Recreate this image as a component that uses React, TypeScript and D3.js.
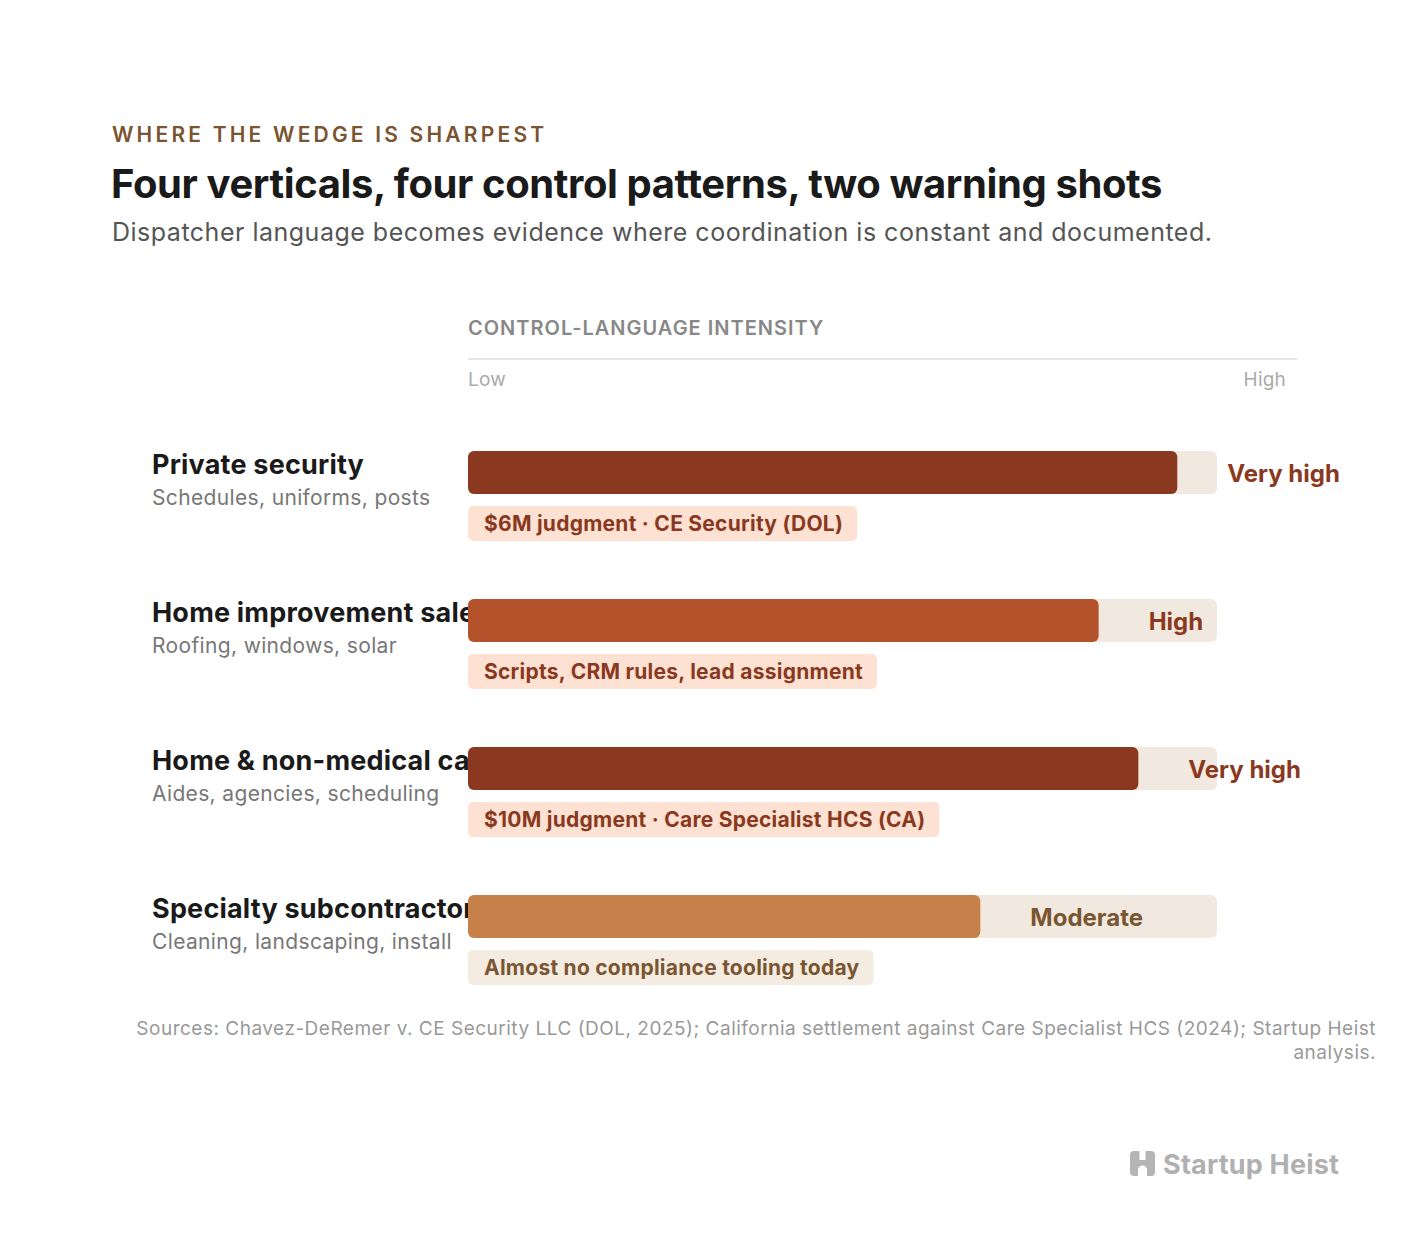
import { useEffect, useRef } from 'react';
import * as d3 from 'd3';

const verticals = [
  'Private security',
  'Home improvement sales',
  'Home & non-medical care',
  'Specialty subcontractors',
];
const examples = [
  'Schedules, uniforms, posts',
  'Roofing, windows, solar',
  'Aides, agencies, scheduling',
  'Cleaning, landscaping, install',
];
const intensity = [94.7, 84.2, 89.5, 68.4];
const levels = ['Very high', 'High', 'Very high', 'Moderate'];
const notes = [
  '$6M judgment · CE Security (DOL)',
  'Scripts, CRM rules, lead assignment',
  '$10M judgment · Care Specialist HCS (CA)',
  'Almost no compliance tooling today',
];
const sourceLines = [
  'Sources: Chavez-DeRemer v. CE Security LLC (DOL, 2025); California settlement against Care Specialist HCS (2024); Startup Heist',
  'analysis.',
];

const FONT = 'Inter, "Noto Sans", sans-serif';

const barColor: Record<string, string> = {
  'Very high': '#8a3920',
  High: '#b4532b',
  Moderate: '#c8804a',
};
const labelColor: Record<string, string> = {
  'Very high': '#8a3920',
  High: '#8a3920',
  Moderate: '#7a5532',
};
const pillColor: Record<string, string> = {
  'Very high': '#fde2d3',
  High: '#fde2d3',
  Moderate: '#f4ece1',
};

export default function App() {
  const svgRef = useRef<SVGSVGElement>(null);

  useEffect(() => {
    if (!svgRef.current) return;
    document.body.style.margin = '0';

    const width = 1408;
    const height = 1248;
    const svg = d3.select(svgRef.current)
      .attr('width', width)
      .attr('height', height)
      .style('font-family', FONT);

    svg.selectAll('*').remove();
    svg.append('rect').attr('width', width).attr('height', height).attr('fill', '#fff');

    // Header
    svg.append('text')
      .attr('x', 112).attr('y', 142)
      .attr('fill', '#7a5532')
      .style('font-size', '21px').style('font-weight', '600')
      .style('letter-spacing', '3.2px')
      .text('WHERE THE WEDGE IS SHARPEST');

    svg.append('text')
      .attr('x', 111).attr('y', 198)
      .attr('fill', '#1a1a1a')
      .style('font-size', '40px').style('font-weight', '700')
      .style('letter-spacing', '-0.4px')
      .text('Four verticals, four control patterns, two warning shots');

    svg.append('text')
      .attr('x', 112).attr('y', 241)
      .attr('fill', '#555')
      .style('font-size', '25px')
      .style('letter-spacing', '0.5px')
      .text('Dispatcher language becomes evidence where coordination is constant and documented.');

    const x = d3.scaleLinear().domain([0, 100]).range([468, 1217]);
    const y = d3.scaleBand().domain(verticals).range([451, 451 + 148 * verticals.length]);
    const trackH = 43;

    // Axis header
    svg.append('text')
      .attr('x', 468).attr('y', 335)
      .attr('fill', '#888')
      .style('font-size', '20px').style('font-weight', '600')
      .style('letter-spacing', '1px')
      .text('CONTROL-LANGUAGE INTENSITY');
    svg.append('line')
      .attr('x1', 468).attr('x2', 1297)
      .attr('y1', 359).attr('y2', 359)
      .attr('stroke', '#e6e6e6').attr('stroke-width', 2);
    svg.append('text')
      .attr('x', x(0)).attr('y', 386)
      .attr('fill', '#aaa').style('font-size', '19px')
      .style('letter-spacing', '0.2px')
      .text('Low');
    svg.append('text')
      .attr('x', 1286).attr('y', 386)
      .attr('text-anchor', 'end')
      .attr('fill', '#aaa').style('font-size', '19px')
      .style('letter-spacing', '0.2px')
      .text('High');

    const rows = svg.selectAll('.row')
      .data(verticals)
      .join('g')
      .attr('class', 'row')
      .attr('transform', d => `translate(0,${y(d)})`);

    // Row labels (drawn first so bars sit on top)
    rows.append('text')
      .attr('x', 152).attr('y', 23)
      .attr('fill', '#1a1a1a')
      .style('font-size', '27px').style('font-weight', '700')
      .style('letter-spacing', '0.2px')
      .text(d => d);
    rows.append('text')
      .attr('x', 152).attr('y', 54)
      .attr('fill', '#777')
      .style('font-size', '21px')
      .style('letter-spacing', '0.35px')
      .text((_, i) => examples[i]);

    // Track + bar
    rows.append('rect')
      .attr('x', x(0)).attr('y', 0)
      .attr('width', x(100) - x(0)).attr('height', trackH)
      .attr('rx', 6)
      .attr('fill', '#f1e9df');
    rows.append('rect')
      .attr('x', x(0)).attr('y', 0)
      .attr('width', (_, i) => x(intensity[i]) - x(0)).attr('height', trackH)
      .attr('rx', 6)
      .attr('fill', (_, i) => barColor[levels[i]]);

    rows.append('text')
      .attr('x', (_, i) => x(intensity[i]) + 50)
      .attr('y', 31)
      .attr('fill', (_, i) => labelColor[levels[i]])
      .style('font-size', '24px').style('font-weight', '700')
      .text((_, i) => levels[i]);

    // Annotation pills
    const pills = rows.append('g').attr('transform', 'translate(468,55)');
    const pillRect = pills.append('rect')
      .attr('height', 35).attr('rx', 5)
      .attr('fill', (_, i) => pillColor[levels[i]]);
    const pillText = pills.append('text')
      .attr('x', 16).attr('y', 25)
      .attr('fill', (_, i) => labelColor[levels[i]])
      .style('font-size', '21px').style('font-weight', '700')
      .style('letter-spacing', '0.25px')
      .text((_, i) => notes[i]);
    pillText.each(function (_, i) {
      const w = (this as SVGTextElement).getComputedTextLength();
      d3.select(pillRect.nodes()[i]).attr('width', w + 30);
    });

    // Sources
    const src = svg.append('text')
      .attr('text-anchor', 'end')
      .attr('fill', '#999')
      .style('font-size', '19px')
      .style('letter-spacing', '0.5px');
    src.selectAll('tspan')
      .data(sourceLines)
      .join('tspan')
      .attr('x', 1376)
      .attr('y', (_, i) => 1035 + i * 24)
      .text(d => d);

    // Logo
    const logo = svg.append('g').attr('transform', 'translate(1130,1151)');
    logo.append('rect').attr('width', 25).attr('height', 25).attr('rx', 4).attr('fill', '#b5b5b5');
    logo.append('rect').attr('x', 9.5).attr('y', 0).attr('width', 6).attr('height', 9).attr('fill', '#fff');
    logo.append('path').attr('d', 'M8,25 L8,19 A4.5,4.5 0 0 1 17,19 L17,25 Z').attr('fill', '#fff');
    svg.append('text')
      .attr('x', 1163).attr('y', 1174)
      .attr('fill', '#b0b0b0')
      .style('font-size', '27px').style('font-weight', '700')
      .style('letter-spacing', '0.2px')
      .text('Startup Heist');
  }, []);

  return <svg ref={svgRef} style={{ display: 'block' }} />;
}
